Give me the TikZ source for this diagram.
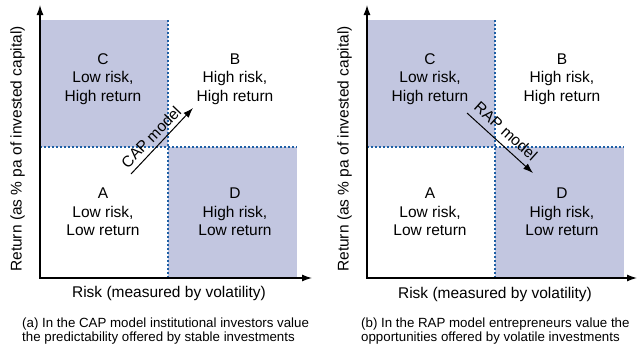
\documentclass[tikz,border=0pt]{standalone}
\usepackage{fontspec}
\setmainfont{Liberation Sans}
\usetikzlibrary{arrows.meta}
\definecolor{quadfill}{RGB}{194,198,224}
\definecolor{dotblue}{RGB}{30,95,165}
\tikzstyle{quad}=[align=center, inner sep=0pt,
font=\fontsize{15.5}{18.5}\selectfont]
\tikzstyle{axislabel}=[inner sep=0pt, font=\fontsize{15.5}{18.5}\selectfont]
\tikzstyle{caption}=[align=left, anchor=west, inner sep=0pt,
font=\fontsize{13.3}{14.6}\selectfont]
\tikzstyle{axis}=[line width=1.3pt, {Latex[length=10pt,width=7pt]}-{Latex[length=10pt,width=7pt]}]
\tikzstyle{border}=[dotblue, line width=1.2pt, dash pattern=on 2pt off 2pt]
\tikzstyle{model}=[line width=1pt, -{Latex[length=10pt,width=7pt]}]
\tikzstyle{modellabel}=[inner sep=0pt, font=\fontsize{15.5}{18.5}\selectfont]

\begin{document}
\begin{tikzpicture}[x=1pt, y=-1pt]
  \useasboundingbox (0,0) rectangle (637,348);

  % Left panel: shaded quadrants
  \fill[quadfill] (40,20) rectangle (168,147);
  \fill[quadfill] (168,147) rectangle (297,278);
  \coordinate (midtop1) at (168,20);
  \coordinate (midbot1) at (168,278);
  \coordinate (midleft1) at (40,147);
  \coordinate (midright1) at (297,147);
  \draw[border] (midtop1) -- (midbot1);
  \draw[border] (midleft1) -- (midright1);

  % Left panel: axes
  \coordinate (O1) at (40,278);
  \coordinate (Y1) at (40,5);
  \coordinate (X1) at (312,278);
  \draw[axis] (Y1) -- (O1) -- (X1);
  \node (ylab1) at (17.5,149) [axislabel, rotate=90]{Return (as \% pa of invested capital)};
  \node (xlab1) at (169,293) [axislabel]{Risk (measured by volatility)};

  % Left panel: quadrants
  \node (C1) at (103,79) [quad]{C\\Low risk,\\High return};
  \node (B1) at (235,79) [quad]{B\\High risk,\\High return};
  \node (A1) at (103,212) [quad]{A\\Low risk,\\Low return};
  \node (D1) at (235,212) [quad]{D\\High risk,\\Low return};

  % Left panel: model arrow
  \coordinate (cap0) at (131,174);
  \coordinate (cap1) at (193,108);
  \draw[model] (cap0) -- (cap1);
  \node (caplab) at (151,137) [modellabel, rotate=46]{CAP model};

  % Left panel: caption
  \node (cap) at (22,331) [caption]{(a) In the CAP model institutional investors value\\the predictability offered by stable investments};

  % Right panel: shaded quadrants
  \fill[quadfill] (367,20) rectangle (495,147);
  \fill[quadfill] (495,147) rectangle (624,278);
  \coordinate (midtop2) at (495,20);
  \coordinate (midbot2) at (495,278);
  \coordinate (midleft2) at (367,147);
  \coordinate (midright2) at (624,147);
  \draw[border] (midtop2) -- (midbot2);
  \draw[border] (midleft2) -- (midright2);

  % Right panel: axes
  \coordinate (O2) at (367,278);
  \coordinate (Y2) at (367,5);
  \coordinate (X2) at (637,278);
  \draw[axis] (Y2) -- (O2) -- (X2);
  \node (ylab2) at (344.5,149) [axislabel, rotate=90]{Return (as \% pa of invested capital)};
  \node (xlab2) at (495,294) [axislabel]{Risk (measured by volatility)};

  % Right panel: quadrants
  \node (C2) at (430,79) [quad]{C\\Low risk,\\High return};
  \node (B2) at (562,79) [quad]{B\\High risk,\\High return};
  \node (A2) at (430,212) [quad]{A\\Low risk,\\Low return};
  \node (D2) at (562,212) [quad]{D\\High risk,\\Low return};

  % Right panel: model arrow
  \coordinate (rap0) at (467,113);
  \coordinate (rap1) at (533,173);
  \draw[model] (rap0) -- (rap1);
  \node (raplab) at (506,131) [modellabel, rotate=-42]{RAP model};

  % Right panel: caption
  \node (rapcap) at (361,331) [caption]{(b) In the RAP model entrepreneurs value the\\opportunities offered by volatile investments};
\end{tikzpicture}
\end{document}
